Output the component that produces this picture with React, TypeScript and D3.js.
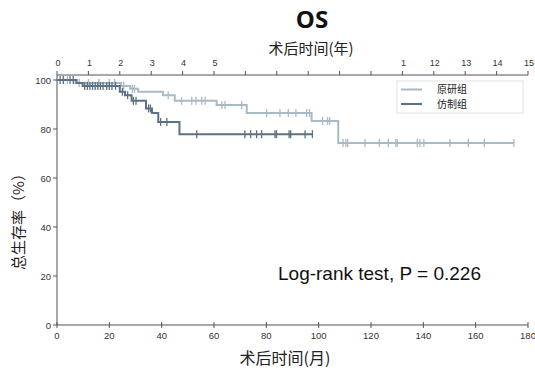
import React from "react";
import * as d3 from "d3";

// Step changes: [month, survival %]
const origSteps: [number, number][] = [
  [0, 100], [7, 98.8], [24.5, 97.6], [28, 96.4], [31, 95.2], [40.5, 93.8], [45, 91.5],
  [61, 89.8], [72.5, 86.5], [97.3, 83.3], [107.5, 74.3],
];
const origEnd = 174.6;
const origCensor: number[] = [
  2.5, 4, 8.5, 12, 16, 20, 22, 25.5, 28.8, 29.6, 42.5, 47.6, 51.5, 53.1, 55.3, 56.6,
  63, 64.2, 70.6, 80.1, 85.2, 88.4, 91.3, 95.4, 96.5, 101.5, 103.4, 104.2,
  109.3, 110.4, 111.1, 117.7, 123.2, 126.6, 129.5, 130.1, 137.7, 138.7, 140.2, 150.2, 157.2, 163.3, 174.6,
];

const genSteps: [number, number][] = [
  [0, 100], [7.5, 98.8], [9.8, 97.6], [24, 95.2], [26, 93.8], [28.5, 91.5], [34, 88.4],
  [36.3, 86.5], [38.7, 82.9], [46.8, 77.9],
];
const genEnd = 97.6;
const genCensor: number[] = [
  1.2, 2.4, 5, 6.2, 10.6, 11.6, 12.6, 13.6, 14.6, 15.6, 16.6, 17.6, 19, 20, 21, 22.4,
  25, 27, 29.2, 30.2, 35, 35.7, 39.6, 42, 53.4, 71.8, 74, 76.3, 78.2, 83.3, 83.9, 88.7, 89.3, 94.8, 97.6,
];

const monthTicks = [0, 20, 40, 60, 80, 100, 120, 140, 160, 180];
const yearTicks = d3.range(0, 16);
const yearLabels = ["0", "1", "2", "3", "4", "5", "", "", "", "", "", "1", "12", "13", "14", "15"];
const yTicks = [0, 20, 40, 60, 80, 100];
const seriesNames = ["原研组", "仿制组"];
const seriesColors = ["#a9b9c6", "#5c7284"];

const W = 535, H = 368;
const x = d3.scaleLinear().domain([0, 180]).range([57, 528]);
const xYear = d3.scaleLinear().domain([0, 15]).range([57, 528]);
const y = d3.scaleLinear().domain([0, 100]).range([325, 80]);

function levelAt(steps: [number, number][], t: number) {
  let v = steps[0][1];
  for (const s of steps) if (s[0] <= t) v = s[1];
  return v;
}

function stepPath(steps: [number, number][], end: number) {
  const pts: [number, number][] = [...steps, [end, steps[steps.length - 1][1]]];
  return d3.line<[number, number]>().x(d => x(d[0])).y(d => y(d[1])).curve(d3.curveStepAfter)(pts) || "";
}

const axisColor = "#555";
const sans = "'Liberation Sans', Arial, sans-serif";
const cjk = "'Noto Sans CJK SC', 'Noto Sans', sans-serif";

export default function App() {
  const curves = [
    { steps: origSteps, end: origEnd, censor: origCensor, color: seriesColors[0] },
    { steps: genSteps, end: genEnd, censor: genCensor, color: seriesColors[1] },
  ];
  return (
    <svg width={W} height={H} style={{ position: "absolute", left: 0, top: 0, background: "#fff" }}>
      {/* Title */}
      <text x={312} y={28} textAnchor="middle" fontFamily="'Open Sans', 'Noto Sans', sans-serif" fontWeight="bold" fontSize={24} fill="#111">OS</text>
      <text x={311} y={54} textAnchor="middle" fontFamily={cjk} fontSize={15} fill="#222">术后时间(年)</text>

      {/* Top axis (years) */}
      <line x1={x(0)} x2={x(180)} y1={75} y2={75} stroke={axisColor} strokeWidth={1} />
      {yearTicks.map((t, i) => (
        <g key={"yt" + t}>
          <line x1={xYear(t)} x2={xYear(t)} y1={75} y2={71} stroke={axisColor} />
          <text x={xYear(t) + 1} y={66} textAnchor="middle" fontFamily={sans} fontSize={9} fill="#333">{yearLabels[i]}</text>
        </g>
      ))}

      {/* Left axis */}
      <line x1={x(0)} x2={x(0)} y1={75} y2={y(0)} stroke={axisColor} strokeWidth={1} />
      {yTicks.map(t => (
        <g key={"y" + t}>
          <line x1={x(0) - 4} x2={x(0)} y1={y(t)} y2={y(t)} stroke={axisColor} />
          <text x={x(0) - 6} y={y(t) + 3.5} textAnchor="end" fontFamily={sans} fontSize={9.5} fill="#333">{t}</text>
        </g>
      ))}
      <text transform={`translate(24,218) rotate(-90)`} textAnchor="middle" fontFamily={cjk} fontSize={15} fill="#222">总生存率（%）</text>

      {/* Bottom axis */}
      <line x1={x(0)} x2={x(180)} y1={y(0)} y2={y(0)} stroke={axisColor} strokeWidth={1.2} />
      {monthTicks.map(t => (
        <g key={"m" + t}>
          <line x1={x(t)} x2={x(t)} y1={y(0) - 3} y2={y(0) + 3} stroke={axisColor} />
          <text x={x(t)} y={y(0) + 14} textAnchor="middle" fontFamily={sans} fontSize={9.5} fill="#333">{t}</text>
        </g>
      ))}
      <text x={285} y={364} textAnchor="middle" fontFamily={cjk} fontSize={16} fill="#222">术后时间(月)</text>

      {/* Curves */}
      {curves.map((c, i) => (
        <g key={"c" + i}>
          <path d={stepPath(c.steps, c.end)} fill="none" stroke={c.color} strokeWidth={2} />
          {c.censor.map((t, j) => (
            <line key={j} x1={x(t)} x2={x(t)} y1={y(levelAt(c.steps, t)) - 4} y2={y(levelAt(c.steps, t)) + 4} stroke={c.color} strokeWidth={1.3} />
          ))}
        </g>
      ))}

      {/* Legend */}
      <rect x={397} y={81} width={126} height={32} fill="#fff" stroke="#e2e2e2" />
      {seriesNames.map((n, i) => (
        <g key={n}>
          <line x1={401} x2={422} y1={89.5 + i * 14.5} y2={89.5 + i * 14.5} stroke={seriesColors[i]} strokeWidth={2} />
          <text x={437} y={93 + i * 14.5} fontFamily={cjk} fontSize={10} fill="#222">{n}</text>
        </g>
      ))}

      <text x={278} y={280} fontFamily={sans} fontSize={19} fill="#111">Log-rank test, P = 0.226</text>
    </svg>
  );
}
